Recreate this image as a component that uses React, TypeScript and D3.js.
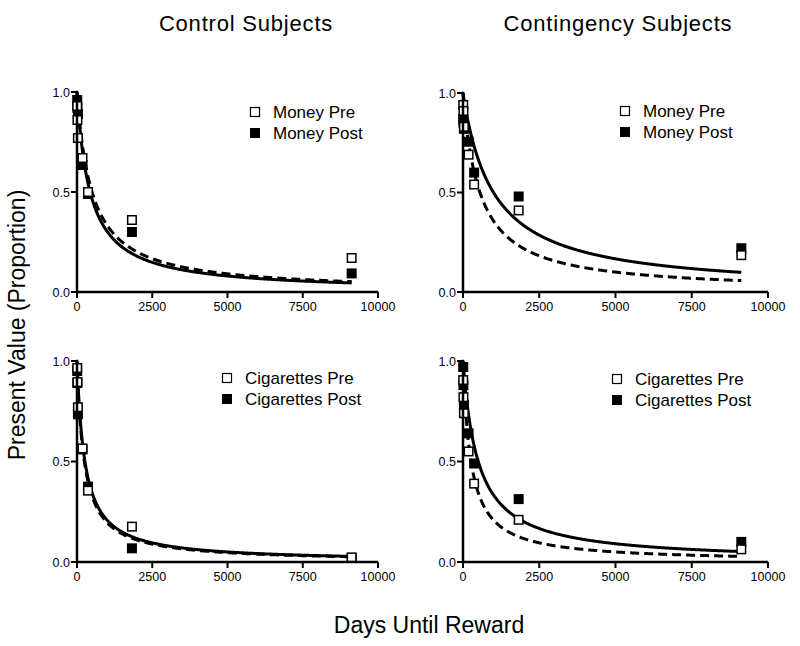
import React from "react";
import * as d3 from "d3";

// delays in days: 1 wk, 2 wk, 1 mo, 6 mo, 1 yr, 5 yr, 25 yr
const delays = [7, 14, 30, 183, 365, 1825, 9125];

const ctrlMoneyPre = [0.93, 0.86, 0.77, 0.67, 0.5, 0.36, 0.17];
const ctrlMoneyPost = [0.96, 0.92, 0.89, 0.635, 0.49, 0.3, 0.093];
const contMoneyPre = [0.94, 0.91, 0.83, 0.69, 0.54, 0.41, 0.185];
const contMoneyPost = [0.87, 0.85, 0.82, 0.755, 0.6, 0.48, 0.22];
const ctrlCigPre = [0.965, 0.895, 0.77, 0.565, 0.355, 0.176, 0.023];
const ctrlCigPost = [0.95, 0.89, 0.735, 0.56, 0.375, 0.068, 0.02];
const contCigPre = [0.905, 0.82, 0.74, 0.55, 0.39, 0.21, 0.063];
const contCigPost = [0.97, 0.88, 0.78, 0.64, 0.49, 0.313, 0.1];

// hyperbolic fit parameters k in V = 1 / (1 + kD)
const kSolid = [0.0023, 0.001, 0.0038, 0.002];
const kDashed = [0.002, 0.0018, 0.0041, 0.0038];

const xTicks = [0, 2500, 5000, 7500, 10000];
const yTicks = [0, 0.5, 1];

const panels = [
  { x0: 77, x1: 378, y0: 292, y1: 92, pre: ctrlMoneyPre, post: ctrlMoneyPost, label: "Money", lx: 255, ly: 112 },
  { x0: 463, x1: 768, y0: 292, y1: 93, pre: contMoneyPre, post: contMoneyPost, label: "Money", lx: 625, ly: 111 },
  { x0: 77, x1: 378, y0: 562, y1: 361, pre: ctrlCigPre, post: ctrlCigPost, label: "Cigarettes", lx: 227, ly: 378 },
  { x0: 463, x1: 768, y0: 562, y1: 361, pre: contCigPre, post: contCigPost, label: "Cigarettes", lx: 617, ly: 379 },
];

const font = "'Liberation Sans', Arial, Helvetica, sans-serif";

function Panel({ p, i }) {
  const x = d3.scaleLinear().domain([0, 10000]).range([p.x0, p.x1]);
  const y = d3.scaleLinear().domain([0, 1]).range([p.y0, p.y1]);
  const ds = d3.range(0, 9126, 25);
  const curve = (k) =>
    d3.line()
      .x((d) => x(d))
      .y((d) => y(1 / (1 + k * d)))
      .curve(d3.curveLinear)(ds);
  const s = 10;
  return (
    <g>
      <path d={curve(kSolid[i])} fill="none" stroke="#000" strokeWidth={3} />
      <path d={curve(kDashed[i])} fill="none" stroke="#000" strokeWidth={3} strokeDasharray="9,5" />
      {p.post.map((v, j) => (
        <rect key={"f" + j} x={x(delays[j]) - s / 2} y={y(v) - s / 2} width={s} height={s} fill="#000" />
      ))}
      {p.pre.map((v, j) => (
        <rect key={"o" + j} x={x(delays[j]) - s / 2 + 0.75} y={y(v) - s / 2 + 0.75} width={s - 1.5} height={s - 1.5}
          fill="#fff" stroke="#000" strokeWidth={1.5} />
      ))}
      {/* axes */}
      <line x1={x(0)} x2={x(10000)} y1={y(0)} y2={y(0)} stroke="#000" strokeWidth={2.5} />
      <line x1={x(0)} x2={x(0)} y1={y(0) + 1.25} y2={y(1) - 1.25} stroke="#000" strokeWidth={2.5} />
      {xTicks.map((t) => (
        <g key={t}>
          <line x1={x(t)} x2={x(t)} y1={y(0)} y2={y(0) + 6} stroke="#000" strokeWidth={2} />
          <text x={x(t)} y={y(0) + 19} textAnchor="middle" fontSize={12.5} fontFamily={font}>{t}</text>
        </g>
      ))}
      {yTicks.map((t) => (
        <g key={t}>
          <line x1={x(0) - 6} x2={x(0)} y1={y(t)} y2={y(t)} stroke="#000" strokeWidth={2} />
          <text x={x(0) - 7} y={y(t) + 4.5} textAnchor="end" fontSize={12.5} fontFamily={font}>{t.toFixed(1)}</text>
        </g>
      ))}
      {/* legend */}
      <rect x={p.lx - 4.5} y={p.ly - 4.5} width={9} height={9} fill="#fff" stroke="#000" strokeWidth={1.2} />
      <text x={p.lx + 18} y={p.ly + 6} fontSize={17} fontFamily={font}>{p.label} Pre</text>
      <rect x={p.lx - 5} y={p.ly + 16} width={10} height={10} fill="#000" />
      <text x={p.lx + 18} y={p.ly + 27} fontSize={17} fontFamily={font}>{p.label} Post</text>
    </g>
  );
}

export default function App() {
  return (
    <svg width={800} height={646} style={{ position: "absolute", left: 0, top: 0, background: "#fff" }}>
      <rect width={800} height={646} fill="#fff" />
      <text x={246} y={31} textAnchor="middle" fontSize={22} letterSpacing={0.8} fontFamily={font}>Control Subjects</text>
      <text x={618} y={31} textAnchor="middle" fontSize={22} letterSpacing={0.8} fontFamily={font}>Contingency Subjects</text>
      <text transform="translate(25,325) rotate(-90)" textAnchor="middle" fontSize={23} fontFamily={font}>Present Value (Proportion)</text>
      <text x={429} y={633} textAnchor="middle" fontSize={23} fontFamily={font}>Days Until Reward</text>
      {panels.map((p, i) => (
        <Panel key={i} p={p} i={i} />
      ))}
    </svg>
  );
}
